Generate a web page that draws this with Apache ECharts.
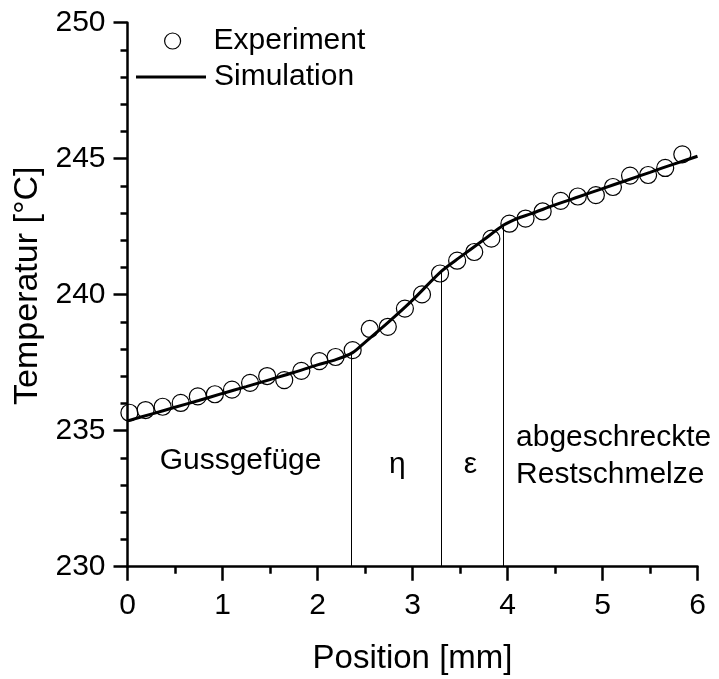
<!DOCTYPE html>
<html>
<head>
<meta charset="utf-8">
<script src="https://cdn.jsdelivr.net/npm/echarts@6/dist/echarts.min.js"></script>
<style>
html,body{margin:0;padding:0;background:#fff;}
#chart{width:719px;height:679px;}
</style>
</head>
<body>
<div id="chart"></div>
<script>
// Experiment: position [mm], temperature [°C]
const expX = [0.02,0.19,0.37,0.56,0.74,0.92,1.10,1.29,1.47,1.65,1.83,2.02,2.19,2.37,2.55,2.74,2.92,3.10,3.29,3.47,3.65,3.83,4.02,4.19,4.37,4.56,4.74,4.93,5.11,5.29,5.48,5.66,5.84];
const expY = [235.66,235.76,235.88,236.02,236.26,236.34,236.51,236.76,237.01,236.86,237.20,237.56,237.71,237.96,238.74,238.82,239.49,240.01,240.78,241.25,241.57,242.06,242.61,242.80,243.06,243.45,243.61,243.66,243.96,244.38,244.40,244.66,245.16];
// Simulation curve
const simX = [0,0.25,0.5,0.75,1.0,1.25,1.5,1.75,2.0,2.2,2.37,2.5,2.75,3.0,3.3,3.5,3.75,3.96,4.1,4.25,4.5,4.75,5.0,5.25,5.5,5.75,6.0];
const simY = [235.36,235.61,235.86,236.11,236.37,236.62,236.88,237.14,237.42,237.62,237.87,238.25,239.0,239.8,240.85,241.38,242.02,242.56,242.8,242.98,243.3,243.6,243.9,244.2,244.5,244.8,245.09];
// Phase boundaries (position, temperature where the line meets the curve)
const boundX = [2.36,3.30,3.95];
const boundY = [237.87,240.85,242.56];
// Region labels
const regionText = ['Gussgefüge','η','ε','abgeschreckte\nRestschmelze'];
const regionX = [1.19,2.84,3.61,4.09];
const regionY = [233.9,233.75,233.75,234.07];

const font = 'Liberation Sans, Arial, sans-serif';
const chart = echarts.init(document.getElementById('chart'));

const expData = expX.map((x,i)=>[x,expY[i]]);
const simData = simX.map((x,i)=>[x,simY[i]]);
const boundLines = boundX.map((x,i)=>[{coord:[x,230]},{coord:[x,boundY[i]]}]);
const labelData = regionText.map((t,i)=>({value:[regionX[i],regionY[i]], name:t,
  label:{align: i===3 ? 'left' : 'center'}}));

chart.setOption({
  animation:false,
  backgroundColor:'#fff',
  grid:{left:127.5,right:21.5,top:22.7,bottom:112.3,containLabel:false,outerBoundsMode:'none'},
  legend:[{
    data:[{name:'Experiment',icon:'circle',itemStyle:{color:'rgba(255,255,255,0)',borderColor:'#000',borderWidth:1.2,opacity:1}}],
    left:159, top:21, itemWidth:16, itemHeight:16,
    textStyle:{fontFamily:font,fontSize:30,color:'#000',padding:[0,0,0,28]}
  },{
    data:[{name:'Simulation',icon:'rect',itemStyle:{color:'#000',borderWidth:0,opacity:1}}],
    left:131, top:57, itemWidth:70, itemHeight:3,
    textStyle:{fontFamily:font,fontSize:30,color:'#000',padding:[0,0,0,3]}
  }],
  xAxis:{
    type:'value', min:0, max:6, interval:1,
    name:'Position [mm]', nameLocation:'middle', nameGap:76,
    nameTextStyle:{fontFamily:font,fontSize:33,color:'#000'},
    axisLine:{show:true,onZero:false,lineStyle:{color:'#000',width:2.5}},
    axisTick:{show:true,inside:false,length:14,lineStyle:{color:'#000',width:2.5}},
    minorTick:{show:true,splitNumber:2,length:7,lineStyle:{color:'#000',width:2.5}},
    axisLabel:{fontFamily:font,fontSize:30,color:'#000',margin:24},
    splitLine:{show:false}
  },
  yAxis:{
    type:'value', min:230, max:250, interval:5,
    name:'Temperatur [°C]', nameLocation:'middle', nameGap:82,
    nameTextStyle:{fontFamily:font,fontSize:34,color:'#000',padding:[0,0,0,18]},
    axisLine:{show:true,onZero:false,lineStyle:{color:'#000',width:2.5}},
    axisTick:{show:true,inside:false,length:14,lineStyle:{color:'#000',width:2.5}},
    minorTick:{show:true,splitNumber:5,length:7,lineStyle:{color:'#000',width:2.5}},
    axisLabel:{fontFamily:font,fontSize:30,color:'#000',margin:22},
    splitLine:{show:false}
  },
  series:[
    {
      name:'Experiment', type:'scatter', data:expData, symbol:'circle', symbolSize:17,
      itemStyle:{color:'rgba(255,255,255,0)',borderColor:'#000',borderWidth:1.2,opacity:1},
      z:2
    },
    {
      name:'Simulation', type:'line', data:simData, smooth:0.3, symbol:'none',
      lineStyle:{color:'#000',width:3},
      markLine:{silent:true,symbol:'none',label:{show:false},
        lineStyle:{color:'#000',width:1,type:'solid'},data:boundLines},
      z:3
    },
    {
      name:'labels', type:'scatter', data:labelData, symbolSize:0, silent:true,
      itemStyle:{opacity:1},
      label:{show:true,position:'inside',formatter:p=>p.name,fontFamily:font,fontSize:30,color:'#000',lineHeight:37},
      z:4
    }
  ]
});
</script>
</body>
</html>
